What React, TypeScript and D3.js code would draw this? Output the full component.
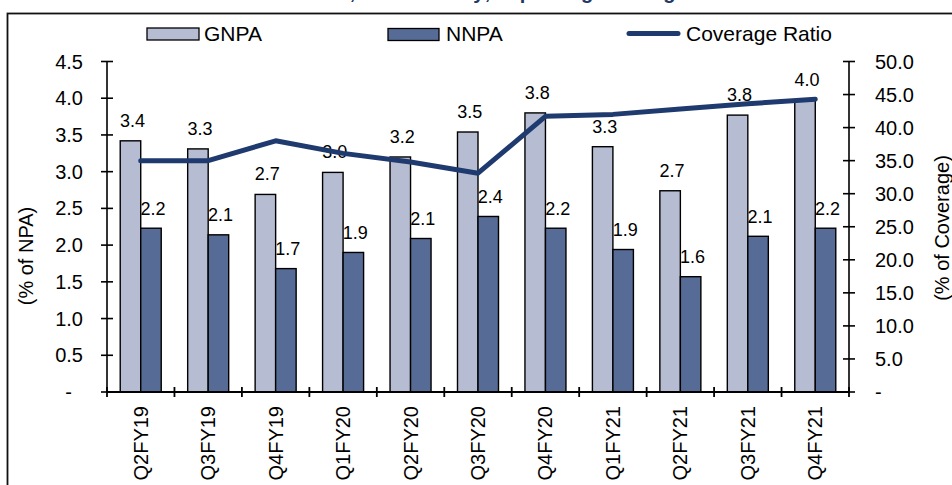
import React from "react";
import * as d3 from "d3";

// Quarterly asset-quality data
const categories = [
  "Q2FY19", "Q3FY19", "Q4FY19", "Q1FY20", "Q2FY20", "Q3FY20",
  "Q4FY20", "Q1FY21", "Q2FY21", "Q3FY21", "Q4FY21",
];
const gnpa = [3.42, 3.31, 2.69, 2.99, 3.2, 3.54, 3.8, 3.34, 2.74, 3.77, 3.98];
const nnpa = [2.23, 2.14, 1.68, 1.9, 2.09, 2.39, 2.23, 1.94, 1.57, 2.12, 2.23];
const coverage = [35.0, 35.0, 38.0, 36.1, 34.8, 33.1, 41.7, 42.0, 42.8, 43.6, 44.3];

const leftTicks = [0, 0.5, 1.0, 1.5, 2.0, 2.5, 3.0, 3.5, 4.0, 4.5];
const rightTicks = [0, 5, 10, 15, 20, 25, 30, 35, 40, 45, 50];
const seriesKeys = ["GNPA", "NNPA"];

const W = 952;
const H = 485;
const FONT = "'Liberation Sans', Arial, Helvetica, sans-serif";
const C_GNPA = "#b6bcd2";
const C_NNPA = "#566b95";
const C_LINE = "#1f3a6e";
const C_TITLE = "#1f3864";

export default function App() {
  const plotL = 107;
  const plotR = 849;
  const plotT = 61.5;
  const plotB = 392;

  const x0 = d3.scaleBand<string>().domain(categories).range([plotL, plotR]).padding(0);
  const x1 = d3
    .scaleBand<string>()
    .domain(seriesKeys)
    .range([0, x0.bandwidth()])
    .paddingInner(0)
    .paddingOuter(0.645);
  const yL = d3.scaleLinear().domain([0, 4.5]).range([plotB, plotT]);
  const yR = d3.scaleLinear().domain([0, 50]).range([plotB, plotT]);
  const fmt = d3.format(".1f");

  const cx = (c: string) => (x0(c) as number) + x0.bandwidth() / 2;
  const line = d3
    .line<number>()
    .x((_, i) => cx(categories[i]))
    .y((d) => yR(d));

  const bw = x1.bandwidth();
  const boundaries = categories.map((c) => x0(c) as number).concat([plotR]);

  return (
    <svg
      width={W}
      height={H}
      viewBox={`0 0 ${W} ${H}`}
      style={{ position: "absolute", left: 0, top: 0, display: "block", background: "#fff" }}
      fontFamily={FONT}
    >
      <rect x={0} y={0} width={W} height={H} fill="#fff" />

      {/* Title (mostly above the visible area) */}
      <text
        x={490}
        y={-1}
        textAnchor="middle"
        fontSize={20}
        fontWeight="bold"
        fill={C_TITLE}
      >
        GNPA, NNPA steady; improving coverage
      </text>

      {/* Outer frame */}
      <rect x={7.5} y={13.5} width={W + 20} height={H + 20} fill="none" stroke="#111" strokeWidth={1.8} />

      {/* Legend */}
      <g fontSize={21} fill="#000">
        <rect x={147} y={28} width={52} height={12} fill={C_GNPA} stroke="#000" strokeWidth={1.3} />
        <text x={204} y={41}>GNPA</text>
        <rect x={388} y={28.5} width={51} height={12} fill={C_NNPA} stroke="#000" strokeWidth={1.3} />
        <text x={446} y={41}>NNPA</text>
        <line x1={629} x2={678} y1={33.5} y2={33.5} stroke={C_LINE} strokeWidth={5} strokeLinecap="round" />
        <text x={686} y={41}>Coverage Ratio</text>
      </g>

      {/* Bars */}
      {categories.map((c, i) => {
        const bx = x0(c) as number;
        const gx = bx + (x1("GNPA") as number);
        const nx = bx + (x1("NNPA") as number);
        return (
          <g key={c}>
            <rect x={gx} y={yL(gnpa[i])} width={bw} height={plotB - yL(gnpa[i])} fill={C_GNPA} stroke="#000" strokeWidth={1.4} />
            <rect x={nx} y={yL(nnpa[i])} width={bw} height={plotB - yL(nnpa[i])} fill={C_NNPA} stroke="#000" strokeWidth={1.4} />
          </g>
        );
      })}

      {/* Data labels */}
      <g fontSize={18} fill="#000" textAnchor="middle">
        {categories.map((c, i) => {
          const bx = x0(c) as number;
          const gx = bx + (x1("GNPA") as number) + bw / 2 + 2;
          const nx = bx + (x1("NNPA") as number) + bw / 2 + 2;
          return (
            <g key={c}>
              <text x={gx} y={yL(gnpa[i]) - 14}>{fmt(gnpa[i])}</text>
              <text x={nx} y={yL(nnpa[i]) - 13.5}>{fmt(nnpa[i])}</text>
            </g>
          );
        })}
      </g>

      {/* Coverage ratio line */}
      <path
        d={line(coverage) || ""}
        fill="none"
        stroke={C_LINE}
        strokeWidth={5}
        strokeLinejoin="round"
        strokeLinecap="round"
      />

      {/* Left axis */}
      <g stroke="#000" strokeWidth={1.6}>
        <line x1={plotL} x2={plotL} y1={plotT} y2={plotB} />
        {leftTicks.map((t) => (
          <line key={t} x1={plotL - 6} x2={plotL + 6} y1={yL(t)} y2={yL(t)} />
        ))}
      </g>
      <g fontSize={20} fill="#000">
        {leftTicks.map((t) =>
          t === 0 ? (
            <text key={t} x={72} y={yL(t)} dy="0.35em" textAnchor="end">-</text>
          ) : (
            <text key={t} x={83} y={yL(t)} dy="0.35em" textAnchor="end">{fmt(t)}</text>
          )
        )}
      </g>
      <text
        transform={`translate(33, 256) rotate(-90)`}
        textAnchor="middle"
        fontSize={20}
        fill="#000"
      >
        (% of NPA)
      </text>

      {/* Right axis */}
      <g stroke="#000" strokeWidth={1.6}>
        <line x1={plotR} x2={plotR} y1={plotT} y2={plotB} />
        {rightTicks.map((t) => (
          <line key={t} x1={plotR - 6} x2={plotR + 6} y1={yR(t)} y2={yR(t)} />
        ))}
      </g>
      <g fontSize={20} fill="#000">
        {rightTicks.map((t) => (
          <text key={t} x={875} y={yR(t)} dy="0.35em" textAnchor="start">
            {t === 0 ? "-" : fmt(t)}
          </text>
        ))}
      </g>
      <text
        transform={`translate(949, 228) rotate(-90)`}
        textAnchor="middle"
        fontSize={20}
        fill="#000"
      >
        (% of Coverage)
      </text>

      {/* Category axis */}
      <g stroke="#000" strokeWidth={1.8}>
        <line x1={plotL} x2={plotR} y1={plotB} y2={plotB} />
        {boundaries.map((b, i) => (
          <line key={i} x1={b} x2={b} y1={plotB - 5} y2={plotB + 5} />
        ))}
      </g>
      <g fontSize={20} fill="#000">
        {categories.map((c) => (
          <text
            key={c}
            transform={`translate(${cx(c)}, 406) rotate(-90)`}
            textAnchor="end"
            dy="0.35em"
          >
            {c}
          </text>
        ))}
      </g>
    </svg>
  );
}
